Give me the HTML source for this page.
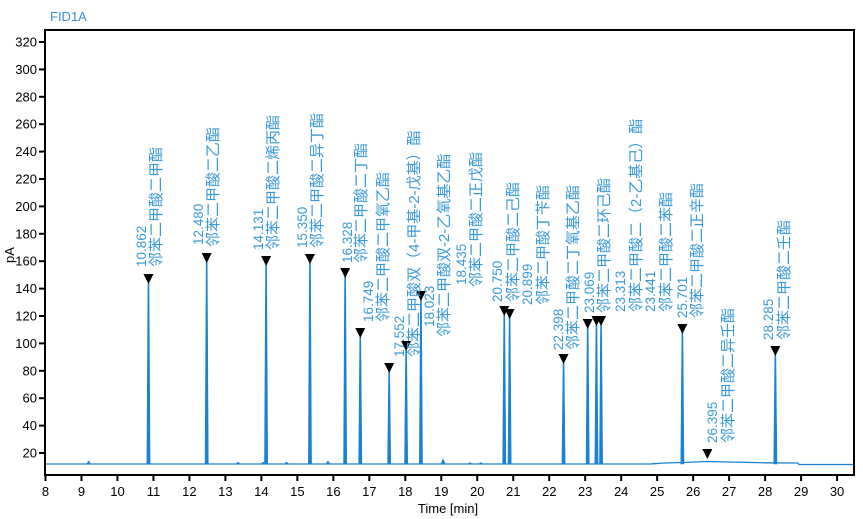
<!DOCTYPE html>
<html><head><meta charset="utf-8"><style>
html,body{margin:0;padding:0;background:#fff;}
svg{display:block;}
.t{font-family:"Liberation Sans",sans-serif;font-size:13px;fill:#000;}
.lb{font-family:"Liberation Sans","Noto Sans CJK SC",sans-serif;font-size:13.5px;fill:#3a9ad9;}
.nm{font-family:"Liberation Sans","Noto Sans CJK SC",sans-serif;font-size:15px;fill:#3a9ad9;}
</style></head><body>
<svg width="863" height="519" viewBox="0 0 863 519" xmlns="http://www.w3.org/2000/svg">
<text x="50" y="21" font-family="Liberation Sans,sans-serif" font-size="13" fill="#3a8fd8">FID1A</text>
<g id="peaks" fill="#1a82d2" stroke="#1a82d2" stroke-width="0.6"></g>
<path id="base" fill="none" stroke="#1a82d2" stroke-width="1.3"></path>
<g id="marks" fill="#000"></g>
<g id="labels"></g>
<rect x="45" y="30" width="809" height="445" fill="none" stroke="#000" stroke-width="2"/>
<g id="ticks" stroke="#000" stroke-width="2"></g>
<g id="tl"></g>
<text class="t" x="448" y="513" text-anchor="middle">Time [min]</text>
<text class="t" transform="translate(14,255) rotate(-90)" text-anchor="middle">pA</text>
</svg>
<script>
var NS="http://www.w3.org/2000/svg";
function el(p,n,a,txt){var e=document.createElementNS(NS,n);for(var k in a)e.setAttribute(k,a[k]);if(txt!=null)e.textContent=txt;document.getElementById(p).appendChild(e);return e;}
function X(t){return 45.5+(t-8)*35.98;}
var B=464;
for(var v=20;v<=320;v+=20){var y=453-(v-20)*1.37;el('ticks','line',{x1:39,x2:45,y1:y,y2:y});el('tl','text',{'class':'t',x:37,y:y+4.5,'text-anchor':'end'},v);}
for(var t=8;t<=30;t++){var x=X(t);el('ticks','line',{x1:x,x2:x,y1:475,y2:481});el('tl','text',{'class':'t',x:x,y:496,'text-anchor':'middle'},t);}
var P=[
[10.862,283,141,267,155,267,"邻苯二甲酸二甲酯"],
[12.480,262,198,245,212,247,"邻苯二甲酸二乙酯"],
[14.131,265,258,250,272,250,"邻苯二甲酸二烯丙酯"],
[15.350,263,302,248,316,248,"邻苯二甲酸二异丁酯"],
[16.328,277,347,263,360,263,"邻苯二甲酸二丁酯"],
[16.749,337,368,322,382,322,"邻苯二甲酸二甲氧乙酯"],
[17.552,372,399,357,413,357,"邻苯二甲酸双（4-甲基-2-戊基）酯"],
[18.023,350,429,327,443,337,"邻苯二甲酸双-2-乙氧基乙酯"],
[18.435,300,461,285,475,287,"邻苯二甲酸二正戊酯"],
[20.750,315,497,302,512,302,"邻苯二甲酸二己酯"],
[20.899,318,527,305,542,305,"邻苯二甲酸丁苄酯"],
[22.398,363,558,350,572,350,"邻苯二甲酸二丁氧基乙酯"],
[23.069,328,589,313,603,313,"邻苯二甲酸二环己酯"],
[23.313,325,620,312,635,312,"邻苯二甲酸二（2-乙基己）酯"],
[23.441,325,650,312,665,312,"邻苯二甲酸二苯酯"],
[25.701,333,682,318,696,318,"邻苯二甲酸二正辛酯"],
[26.395,458,712,443,727,443,"邻苯二甲酸二异壬酯"],
[28.285,355,768,340,783,340,"邻苯二甲酸二壬酯"]
];
P.forEach(function(p){
 var x=X(p[0]);
 if(p[0]!==26.395) el('peaks','polygon',{points:(x-1.6)+','+B+' '+(x-0.5)+','+(p[1])+' '+(x+0.5)+','+(p[1])+' '+(x+1.6)+','+B});
 el('marks','polygon',{points:(x-5)+','+(p[1]-9)+' '+(x+5)+','+(p[1]-9)+' '+x+','+(p[1]+1)});
 el('labels','text',{'class':'lb',transform:'translate('+(p[2]+5)+','+p[3]+') rotate(-90)'},p[0].toFixed(3));
 el('labels','text',{'class':'nm',transform:'translate('+(p[4]+6)+','+p[5]+') rotate(-90)'},p[6]);
});
[[9.2,3],[13.35,2],[14.05,2],[14.7,2],[15.85,3],[19.05,5],[19.8,1.5],[20.1,1.5],[24.9,1]].forEach(function(s){var x=X(s[0]);el('peaks','polygon',{points:(x-2)+','+B+' '+x+','+(B-s[1])+' '+(x+2)+','+B});});
var d='M46,'+B+' L'+X(24.8)+','+B+' L'+X(25.2)+','+(B-1)+' L'+X(25.7)+','+(B-1.5)+' L'+X(26.4)+','+(B-2.5)+' L'+X(27)+','+(B-2)+' L'+X(28)+','+(B-1.2)+' L'+X(28.9)+','+(B-1)+' L'+X(28.95)+','+(B+0.5)+' L853,'+(B+0.5);
document.getElementById('base').setAttribute('d',d);
</script>
</body></html>
